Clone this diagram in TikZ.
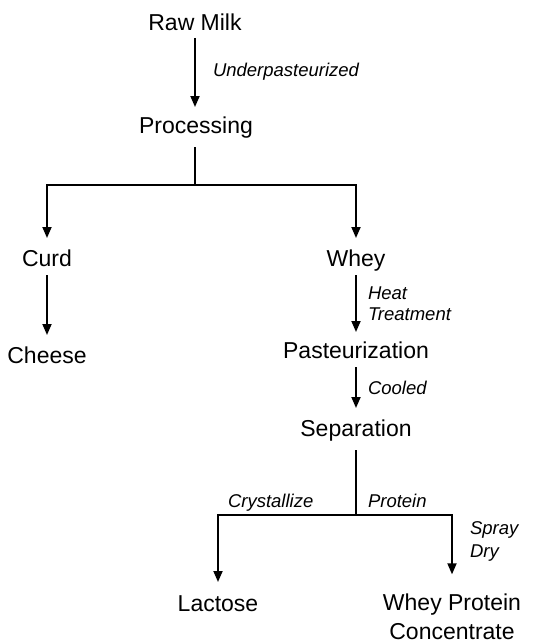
\documentclass[tikz,border=0pt]{standalone}
\usepackage{fontspec}
\setmainfont{Liberation Sans}
\usetikzlibrary{arrows.meta}
\begin{document}
\begin{tikzpicture}[x=1pt,y=-1pt,
  every node/.style={inner sep=0pt, outer sep=0pt},
  item/.style={font=\fontsize{23}{29}\selectfont, text height=16.5pt, text depth=0pt, anchor=base},
  lbl/.style={font=\fontsize{18.5}{21}\selectfont\itshape, anchor=base west, align=left},
  link/.style={line width=1.8pt},
  arr/.style={link, -{Triangle[length=11pt,width=9pt]}},
]
\useasboundingbox (0,0) rectangle (546,642);
% main items
\node[item] (raw) at (195,31) {Raw Milk};
\node[item] (proc) at (196,133) {Processing};
\node[item] (curd) at (47,266) {Curd};
\node[item] (whey) at (356,266) {Whey};
\node[item] (cheese) at (47,363) {Cheese};
\node[item] (past) at (356,358) {Pasteurization};
\node[item] (sep) at (356,436) {Separation};
\node[item] (lact) at (218,611) {Lactose};
\node[font=\fontsize{23}{29}\selectfont, anchor=base, align=center] (wpc) at (452,639) {Whey Protein\\Concentrate};
% labels
\node[lbl] (l1) at (213,77) {Underpasteurized};
\node[lbl] (l2) at (368,320) {Heat\\Treatment};
\node[lbl] (l3) at (368,394) {Cooled};
\node[lbl] (l4) at (228,507) {Crystallize};
\node[lbl] (l5) at (368,507) {Protein};
\node[lbl, font=\fontsize{18.5}{23}\selectfont\itshape] (l6) at (470,557) {Spray\\Dry};
% connectors
\coordinate (j1) at (195,185);
\coordinate (j2) at (356,515);
\draw[arr, shorten <=7pt, shorten >=9.5pt] (raw) -- (proc.north -| raw);
\draw[link, shorten <=14pt] (proc.south -| j1) -- (j1);
\draw[arr, shorten >=11.5pt] (j1) -| (curd);
\draw[arr, shorten >=11.5pt] (j1) -| (whey);
\draw[arr, shorten <=9pt, shorten >=11.5pt] (curd) -- (cheese);
\draw[arr, shorten <=9pt, shorten >=9.5pt] (whey) -- (past);
\draw[arr, shorten <=9pt, shorten >=11.5pt] (past) -- (sep);
\draw[link, shorten <=14pt] (sep) -- (j2);
\draw[arr, shorten >=12.5pt] (j2) -| (lact);
\draw[arr, shorten >=19pt] (j2) -| (wpc);
\end{tikzpicture}
\end{document}
